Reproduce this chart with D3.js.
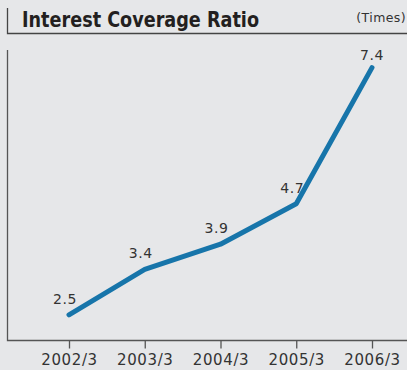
<!DOCTYPE html>
<html>
<head>
<meta charset="utf-8">
<script src="https://cdn.jsdelivr.net/npm/d3@7"></script>
<style>
  html, body { margin: 0; padding: 0; background: #e6e7e9; }
  svg { display: block; }
</style>
</head>
<body>
<div id="chart"></div>
<script>
const years = ["2002/3", "2003/3", "2004/3", "2005/3", "2006/3"];
const ratios = [2.5, 3.4, 3.9, 4.7, 7.4];

const w = 407, h = 370;

const svg = d3.select("#chart")
  .append("svg")
  .attr("width", w)
  .attr("height", h);

svg.append("rect")
  .attr("width", w).attr("height", h)
  .attr("fill", "#e6e7e9");

// title bar
svg.append("path")
  .attr("d", "M7.5,8 V33.5 H407")
  .attr("fill", "none")
  .attr("stroke", "#444")
  .attr("stroke-width", 1.3);

svg.append("text")
  .attr("x", 22)
  .attr("y", 26.5)
  .attr("font-family", "DejaVu Sans Condensed, DejaVu Sans, sans-serif")
  .attr("font-weight", "bold")
  .attr("font-size", 22)
  .attr("textLength", 237)
  .attr("lengthAdjust", "spacingAndGlyphs")
  .attr("fill", "#231f20")
  .text("Interest Coverage Ratio");

svg.append("text")
  .attr("x", 406)
  .attr("y", 22)
  .attr("text-anchor", "end")
  .attr("font-family", "DejaVu Sans, sans-serif")
  .attr("font-size", 12.5)
  .attr("letter-spacing", 0.4)
  .attr("fill", "#333")
  .text("(Times)");

// scales
const x = d3.scalePoint()
  .domain(years)
  .range([69, 372]);

const y = d3.scaleLinear()
  .domain([2, 7.75])
  .range([340, 50]);

// frame
svg.append("path")
  .attr("d", "M7.5,50 V340.5 H407")
  .attr("fill", "none")
  .attr("stroke", "#555")
  .attr("stroke-width", 1.3);

const xAxis = svg.append("g")
  .attr("transform", "translate(0,340.5)")
  .call(d3.axisBottom(x).tickSize(8).tickPadding(6));
xAxis.select(".domain").remove();
xAxis.selectAll(".tick line").attr("stroke", "#555").attr("stroke-width", 1.3);
xAxis.selectAll(".tick text")
  .attr("font-family", "DejaVu Sans, sans-serif")
  .attr("font-size", 15)
  .attr("letter-spacing", 0.6)
  .attr("fill", "#333");

// line
const line = d3.line()
  .x((d, i) => x(years[i]))
  .y(d => y(d));

svg.append("path")
  .datum(ratios)
  .attr("d", line)
  .attr("fill", "none")
  .attr("stroke", "#1775aa")
  .attr("stroke-width", 5)
  .attr("stroke-linecap", "round")
  .attr("stroke-linejoin", "round");

// value labels
svg.selectAll(".val")
  .data(ratios)
  .enter()
  .append("text")
  .attr("class", "val")
  .attr("x", (d, i) => x(years[i]) - (i === 4 ? 0 : 4))
  .attr("y", (d, i) => y(d) - (i === 4 ? 8 : 11))
  .attr("text-anchor", "middle")
  .attr("font-family", "DejaVu Sans, sans-serif")
  .attr("font-size", 14)
  .attr("letter-spacing", 0.5)
  .attr("fill", "#333")
  .text(d => d.toFixed(1));
</script>
</body>
</html>
